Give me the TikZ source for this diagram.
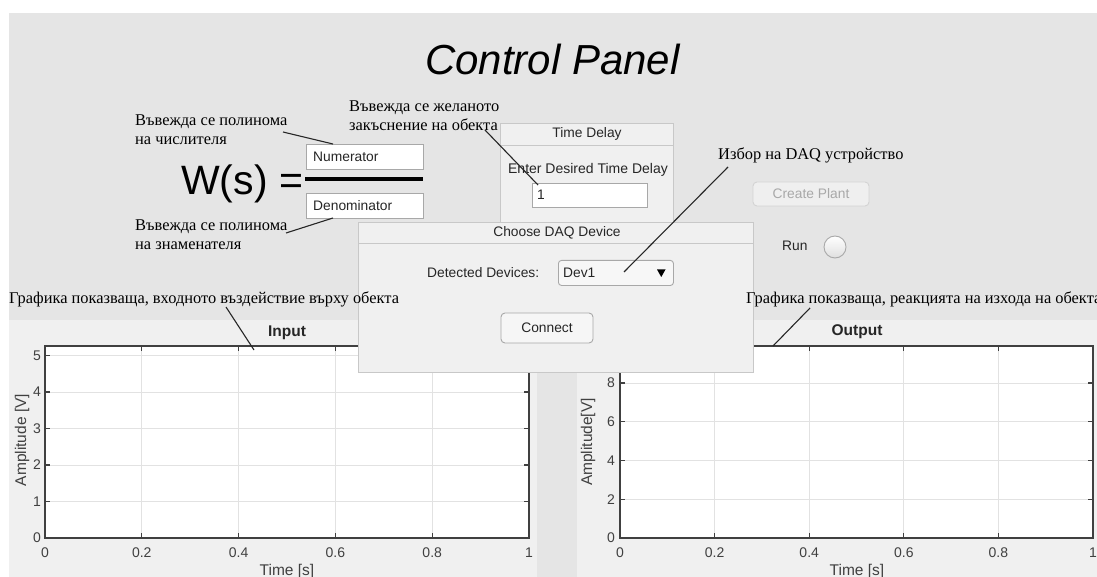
\documentclass[tikz,border=0pt]{standalone}
\usepackage{fontspec}
\setmainfont{Liberation Sans}
\newfontfamily\annserif{Liberation Serif}
\definecolor{bg}{HTML}{E5E5E5}
\definecolor{panel}{HTML}{F0F0F0}
\definecolor{edge}{HTML}{C8C8C8}
\definecolor{fieldedge}{HTML}{A8A8A8}
\definecolor{axis}{HTML}{404040}
\definecolor{gridc}{HTML}{E2E2E2}
\definecolor{uidark}{HTML}{262626}
\definecolor{dimtext}{HTML}{A8A8A8}
\begin{document}
\begin{tikzpicture}[x=1pt,y=-1pt,
  ui/.style={font=\fontsize{13.8}{16}\selectfont, text=uidark, inner sep=0},
  ticklab/.style={font=\fontsize{14}{16}\selectfont, text=axis, inner sep=0},
  axlab/.style={font=\fontsize{15.5}{18}\selectfont, text=axis, inner sep=0},
  plottitle/.style={font=\bfseries\fontsize{15.5}{18}\selectfont, text=uidark, inner sep=0},
  ann/.style={font=\annserif\fontsize{16.4}{19.5}\selectfont, align=left, inner sep=0, anchor=base west, text=black},
  conn/.style={draw=black!85, line width=1.1},
  field/.style={draw=fieldedge, fill=white, line width=0.9, inner sep=0, anchor=north west},
  panelbox/.style={draw=edge, fill=panel, line width=0.9, inner sep=0, anchor=north west},
  button/.style={draw=fieldedge, fill=panel!60!white, rounded corners=4, line width=0.9, inner sep=0, font=\fontsize{13.8}{16}\selectfont, text=uidark},
  disabled/.style={draw=edge!80, fill=bg!60!white, text=dimtext},
  axisframe/.style={draw=axis, line width=1.3},
  tickmark/.style={draw=axis, line width=1.1},
  gridline/.style={draw=gridc, line width=0.9}
]
\useasboundingbox (0,0) rectangle (1097,577);

% window background
\fill[white] (0,0) rectangle (1097,577);
\fill[bg] (9,13) rectangle (1097,577);

% title and transfer function
\node[font=\itshape\fontsize{42}{50}\selectfont, inner sep=0, anchor=base] (title) at (552.5,75) {Control Panel};
\node[font=\fontsize{41}{47}\selectfont, inner sep=0, anchor=base west] (ws) at (181,195) {W(s) =};
\draw[line width=4.5] (305,179) -- (423,179);
\node[field, minimum width=117, minimum height=25] (num) at (306,144) {};
\node[ui, anchor=west] (numtxt) at (313,156.5) {Numerator};
\node[field, minimum width=117, minimum height=25] (den) at (306,193) {};
\node[ui, anchor=west] (dentxt) at (313,205.5) {Denominator};

% time delay panel
\node[panelbox, minimum width=173, minimum height=110] (tdpanel) at (500,123) {};
\draw[edge, line width=0.9] (500,145) -- (673,145);
\node[ui] (tdtitle) at (587,134) {Time Delay};
\node[ui, font=\fontsize{14}{16}\selectfont] (tdprompt) at (588,170) {Enter Desired Time Delay};
\node[field, minimum width=115, minimum height=24] (tdfield) at (532,183) {};
\node[ui, anchor=west] (tdval) at (537,195) {1};

% buttons on the right
\node[button, disabled, minimum width=116, minimum height=24] (create) at (811,194) {Create Plant};
\node[ui, anchor=west] (runtxt) at (782,246) {Run};
\node[circle, draw=fieldedge, line width=0.9, top color=white, bottom color=gray!25, minimum size=22, inner sep=0] (runbtn) at (835,247) {};

% input plot
\fill[panel] (9,320) rectangle (537,577);
\fill[white] (45,346) rectangle (529,538);
\foreach \i in {1,...,4} {
  \draw[gridline] ({45+\i*96.8},346) -- ({45+\i*96.8},538);
  \draw[tickmark] ({45+\i*96.8},538) -- ++(0,-5);
  \draw[tickmark] ({45+\i*96.8},346) -- ++(0,5);
}
\foreach \v in {1,...,5} {
  \draw[gridline] (45,{538-\v*36.5}) -- (529,{538-\v*36.5});
  \draw[tickmark] (45,{538-\v*36.5}) -- ++(5,0);
  \draw[tickmark] (529,{538-\v*36.5}) -- ++(-5,0);
}
\draw[axisframe] (45,346) rectangle (529,538);
\foreach \v in {0,...,5}
  \node[ticklab, anchor=east] (iny\v) at (41,{538-\v*36.5}) {\v};
\foreach \t/\l in {0/0,1/0.2,2/0.4,3/0.6,4/0.8,5/1}
  \node[ticklab] (inx\t) at ({45+\t*96.8},553) {\l};
\node[plottitle] (intitle) at (287,333) {Input};
\node[axlab, anchor=base] (inxlab) at (287,575.5) {Time [s]};
\node[axlab, rotate=90] (inylab) at (22,440) {Amplitude [V]};

% output plot
\fill[panel] (577,320) rectangle (1097,577);
\fill[white] (620,346) rectangle (1093,538);
\foreach \i in {1,...,4} {
  \draw[gridline] ({620+\i*94.6},346) -- ({620+\i*94.6},538);
  \draw[tickmark] ({620+\i*94.6},538) -- ++(0,-5);
  \draw[tickmark] ({620+\i*94.6},346) -- ++(0,5);
}
\foreach \v in {2,4,6,8} {
  \draw[gridline] (620,{538-\v*19.375}) -- (1093,{538-\v*19.375});
  \draw[tickmark] (620,{538-\v*19.375}) -- ++(5,0);
  \draw[tickmark] (1093,{538-\v*19.375}) -- ++(-5,0);
}
\draw[axisframe] (620,346) rectangle (1093,538);
\foreach \v in {0,2,4,6,8}
  \node[ticklab, anchor=east] (outy\v) at (615,{538-\v*19.375}) {\v};
\foreach \t/\l in {0/0,1/0.2,2/0.4,3/0.6,4/0.8,5/1}
  \node[ticklab] (outx\t) at ({620+\t*94.6},553) {\l};
\node[plottitle] (outtitle) at (857,332) {Output};
\node[axlab, anchor=base] (outxlab) at (857,575.5) {Time [s]};
\node[axlab, rotate=90] (outylab) at (588,442) {Amplitude[V]};

% DAQ device dialog
\node[panelbox, minimum width=395, minimum height=150] (daq) at (358,222) {};
\draw[edge, line width=0.9] (358,243) -- (753,243);
\node[ui] (daqtitle) at (557,233) {Choose DAQ Device};
\node[ui, anchor=west] (detected) at (427,273) {Detected Devices:};
\node[field, fill=white!97!black, rounded corners=3, minimum width=115, minimum height=25] (dev) at (558,260) {};
\node[ui, anchor=west] (devtxt) at (563,273) {Dev1};
\fill[black] (657,269.5) -- (665.5,269.5) -- (661.25,277) -- cycle;
\node[button, minimum width=92, minimum height=30] (connect) at (547,328) {Connect};

% annotations (base anchor sits on the last line)
\node[ann] (annnum) at (135,145) {Въвежда се полинома\\на числителя};
\node[ann] (annden) at (135,250) {Въвежда се полинома\\на знаменателя};
\node[ann] (anndelay) at (349,131) {Въвежда се желаното\\закъснение на обекта};
\node[ann] (anndaq) at (718,160) {Избор на DAQ устройство};
\node[ann] (annin) at (9,303) {Графика показваща, входното въздействие върху обекта};
\node[ann] (annout) at (746,303) {Графика показваща, реакцията на изхода на обекта};

\coordinate (numA) at (283,132);  \coordinate (numB) at (333,144);
\coordinate (denA) at (286,233);  \coordinate (denB) at (333,218);
\coordinate (delA) at (485,130);  \coordinate (delB) at (538,185);
\coordinate (daqA) at (728,167);  \coordinate (daqB) at (624,272);
\coordinate (inA) at (226,307);   \coordinate (inB) at (254,350);
\coordinate (outA) at (810,308);  \coordinate (outB) at (773,346);
\draw[conn] (numA) -- (numB);
\draw[conn] (denA) -- (denB);
\draw[conn] (delA) -- (delB);
\draw[conn] (daqA) -- (daqB);
\draw[conn] (inA) -- (inB);
\draw[conn] (outA) -- (outB);
\end{tikzpicture}
\end{document}
